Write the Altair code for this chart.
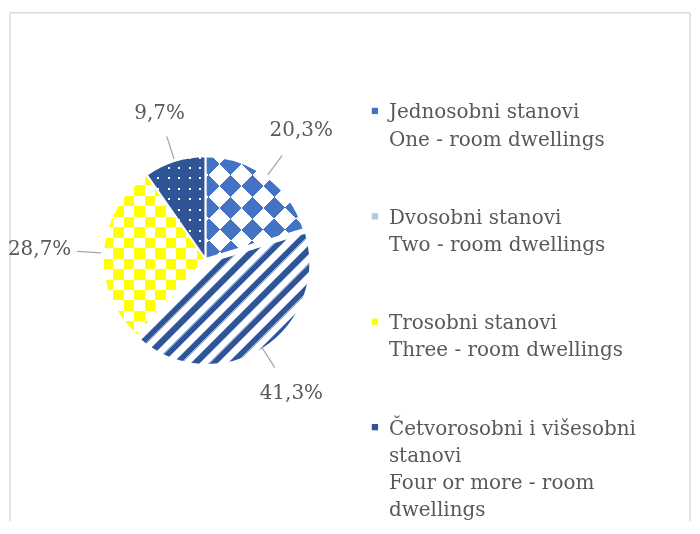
import math
import textwrap
import altair as alt
import pandas as pd

# ---------------- data ----------------
names_sr = ["Jednosobni stanovi", "Dvosobni stanovi", "Trosobni stanovi",
            "Četvorosobni i višesobni stanovi"]
names_en = ["One - room dwellings", "Two - room dwellings", "Three - room dwellings",
            "Four or more - room dwellings"]
shares = [20.3, 41.3, 28.7, 9.7]

# ---------------- styles / layout ----------------
FONT = "DejaVu Serif"
TXT = "#595959"
W, H = 682, 510
CX, CY, R = 196, 247, 103
marker_colors = ["#4472C4", "#B4C7E7", "#FFFF00", "#2F5597"]

df = pd.DataFrame({"cat": names_sr, "value": shares})
df["end"] = df["value"].cumsum()
df["start"] = df["end"] - df["value"]
df["mid"] = (df["start"] + df["end"]) / 2
df["label"] = [f"{v:.1f}".replace(".", ",") + "%" for v in shares]
ang = df["mid"] / 100 * 2 * math.pi
sn, cs = ang.apply(math.sin), ang.apply(math.cos)
df["x1"] = CX + (R + 2) * sn
df["y1"] = CY - (R + 2) * cs
df["x2"] = CX + (R + 26) * sn
df["y2"] = CY - (R + 26) * cs
lr = R + 30 + 33 * sn.abs() + 11 * cs.abs()
df["lx"] = CX + lr * sn
df["ly"] = CY - lr * cs

theta_scale = alt.Scale(domain=[0, 100], range=[0, 2 * math.pi])


def sector_bbox(a0, a1, r):
    pts = [(0.0, 0.0)]
    for a in [a0, a1] + [d for d in (0, 90, 180, 270, 360) if a0 < d < a1]:
        t = math.radians(a)
        pts.append((r * math.sin(t), -r * math.cos(t)))
    xs = [p[0] for p in pts]
    ys = [p[1] for p in pts]
    return max(xs) - min(xs), max(ys) - min(ys)


def stripe_grad(pattern, direction, w, h):
    k = h / w
    a = (1 + k) / (1 + k * k)
    if direction == "v":
        x1, y1, x2, y2, D = 0, 0, 1, 0, w
    elif direction == "h":
        x1, y1, x2, y2, D = 0, 0, 0, 1, h
    elif direction == "/":
        x1, y1, x2, y2, D = 0, 0, a, a * k, (w + h) / math.sqrt(2)
    else:
        x1, y1, x2, y2, D = 0, 1, a, 1 - a * k, (w + h) / math.sqrt(2)
    stops, pos, i = [], 0.0, 0
    while pos < D:
        c, px = pattern[i % len(pattern)]
        t0 = round(pos / D, 5)
        t1 = round(min((pos + px) / D, 1.0), 5)
        stops.append({"offset": t0, "color": c})
        stops.append({"offset": t1, "color": c})
        pos += px
        i += 1
    return {"gradient": "linear", "x1": x1, "y1": y1, "x2": x2, "y2": y2, "stops": stops}


WH, BK = "#ffffff", "#000000"
layers = []
for i in range(len(shares)):
    a0 = df["start"][i] * 3.6
    a1 = df["end"][i] * 3.6
    w, h = sector_bbox(a0, a1, R)
    if i == 0:
        s = 15.5
        recipe = [(stripe_grad([(WH, s), (BK, s)], "/", w, h), None),
                  (stripe_grad([(WH, s), (BK, s)], "\\", w, h), "difference"),
                  ("#4472C4", "screen")]
    elif i == 1:
        recipe = [(stripe_grad([("#2E5597", 5.0), ("#9AB0D6", 1.0), (WH, 6.0), ("#9AB0D6", 1.0)],
                               "/", w, h), None)]
    elif i == 2:
        c = 10.5
        recipe = [(stripe_grad([(WH, c), (BK, c)], "v", w, h), None),
                  (stripe_grad([(WH, c), (BK, c)], "h", w, h), "difference"),
                  ("#FFFF00", "screen")]
    else:
        recipe = [(stripe_grad([(WH, 2.2), (BK, 8.3)], "v", w, h), None),
                  (stripe_grad([(WH, 2.2), (BK, 8.3)], "h", w, h), "multiply"),
                  ("#2F5597", "screen")]
    off = 4 if i == 1 else 0
    t = math.radians(df["mid"][i] * 3.6)
    cx = CX + off * math.sin(t)
    cy = CY - off * math.cos(t)
    base = alt.Chart(df).transform_filter(alt.datum.cat == names_sr[i])
    enc = dict(theta=alt.Theta("start:Q", scale=theta_scale, stack=False),
               theta2="end:Q", x=alt.value(cx), y=alt.value(cy))
    for fill, blend in recipe:
        kw = dict(radius=R, fill=fill)
        if blend:
            kw["blend"] = blend
        layers.append(base.mark_arc(**kw).encode(**enc))
    layers.append(base.mark_arc(radius=R, fillOpacity=0, stroke="white", strokeWidth=2).encode(**enc))

leaders = alt.Chart(df).mark_rule(color="#A6A6A6", strokeWidth=1.3).encode(
    x=alt.X("x1:Q", scale=None), y=alt.Y("y1:Q", scale=None),
    x2="x2:Q", y2="y2:Q")
labels = alt.Chart(df).mark_text(font=FONT, fontSize=20, color=TXT, align="center",
                                 baseline="middle").encode(
    x=alt.X("lx:Q", scale=None), y=alt.Y("ly:Q", scale=None), text="label:N")

# ---------------- legend ----------------
rows, marks = [], []
for i, (sr, en) in enumerate(zip(names_sr, names_en)):
    lines = textwrap.wrap(sr, 24) + textwrap.wrap(en, 24)
    base_y = 106 + 105.7 * i
    for j, ln in enumerate(lines):
        rows.append({"txt": ln, "yy": base_y + 27.3 * j})
    marks.append({"yy": base_y - 7.5, "col": marker_colors[i]})
leg_df = pd.DataFrame(rows)
mk_df = pd.DataFrame(marks)
leg_text = alt.Chart(leg_df).mark_text(font=FONT, fontSize=20, color=TXT, align="left",
                                       baseline="alphabetic").encode(
    x=alt.value(380), y=alt.Y("yy:Q", scale=None), text="txt:N")
leg_mark = alt.Chart(mk_df).mark_square(size=40, opacity=1).encode(
    x=alt.value(366), y=alt.Y("yy:Q", scale=None), color=alt.Color("col:N", scale=None))

# ---------------- frame ----------------
one = pd.DataFrame({"a": [0]})
frame_top = alt.Chart(one).mark_rule(color="#D9D9D9", strokeWidth=1.5).encode(
    x=alt.value(0), x2=alt.value(W), y=alt.value(0))
frame_left = alt.Chart(one).mark_rule(color="#D9D9D9", strokeWidth=1.5).encode(
    x=alt.value(0), y=alt.value(0), y2=alt.value(H))
frame_right = alt.Chart(one).mark_rule(color="#D9D9D9", strokeWidth=1.5).encode(
    x=alt.value(W), y=alt.value(0), y2=alt.value(H))

chart = alt.layer(frame_top, frame_left, frame_right, *layers, leaders, labels,
                  leg_mark, leg_text).properties(
    width=W, height=H,
    padding={"left": 2, "top": 4, "right": 2, "bottom": 0},
    autosize=alt.AutoSizeParams(type="none"),
    background="white",
).configure_view(strokeWidth=0)

chart.save("out.html", embed_options={"renderer": "svg", "actions": False})
